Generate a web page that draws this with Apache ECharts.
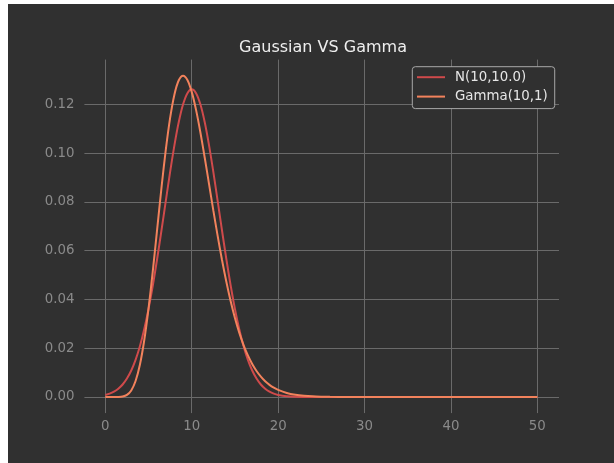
<!DOCTYPE html>
<html>
<head>
<meta charset="utf-8">
<script src="https://cdn.jsdelivr.net/npm/echarts@6/dist/echarts.min.js"></script>
<style>
html,body{margin:0;padding:0;background:#fff;width:614px;height:463px;overflow:hidden;}
#c{position:absolute;left:8px;top:4px;width:606px;height:459px;background:#303030;}
</style>
</head>
<body>
<div id="c"></div>
<script>
const titleText = 'Gaussian VS Gamma';
const seriesNames = ['N(10,10.0)', 'Gamma(10,1)'];
const xValues = [0,0.5,1,1.5,2,2.5,3,3.5,4,4.5,5,5.5,6,6.5,7,7.5,8,8.5,9,9.5,10,
  10.5,11,11.5,12,12.5,13,13.5,14,14.5,15,15.5,16,16.5,17,17.5,18,18.5,19,19.5,20,
  21,22,23,24,25,26,28,30,35,40,50];
const normalValues = [0.00085,0.00138,0.00220,0.00340,0.00514,0.00758,0.01089,0.01526,0.02085,0.02780,0.03615,
  0.04584,0.05669,0.06838,0.08044,0.09230,0.10329,0.11274,0.12001,0.12459,0.12616,
  0.12459,0.12001,0.11274,0.10329,0.09230,0.08044,0.06838,0.05669,0.04584,0.03615,
  0.02780,0.02085,0.01526,0.01089,0.00758,0.00514,0.00340,0.00220,0.00138,0.00085,
  0.00030,0.00009,0.00003,0.00001,0,0,0,0,0,0,0];
const gammaValues = [0,0,0.000001,0.000024,0.00019,0.00086,0.00270,0.00656,0.01323,0.02317,0.03627,
  0.05186,0.06884,0.08583,0.10140,0.11444,0.12408,0.12987,0.13176,0.13000,0.12511,
  0.11772,0.10855,0.09822,0.08737,0.07652,0.06606,0.05627,0.04734,0.03937,0.03241,
  0.02640,0.02131,0.01705,0.01353,0.01065,0.00833,0.00646,0.00498,0.00382,0.00291,
  0.00166,0.00093,0.00051,0.00027,0.00015,0.00008,0.00002,0.00001,0,0,0];
const xTicks = [0,10,20,30,40,50];
const yTicks = [0,0.02,0.04,0.06,0.08,0.10,0.12];

const colors = ['#cf4a4b', '#f2825c'];
const gridColor = '#6a6a6a';
const tickText = '#8a8a8a';
const font = 'DejaVu Sans';

const chart = echarts.init(document.getElementById('c'), null, {renderer:'canvas'});
const mk = (ys) => xValues.map((x, i) => [x, ys[i]]);

chart.setOption({
  backgroundColor: '#303030',
  animation: false,
  title: {
    text: titleText, left: 310, top: 31, textAlign: 'center',
    textStyle: {color: '#eeeeee', fontSize: 16, fontWeight: 'normal', fontFamily: font}
  },
  legend: {
    orient: 'vertical', left: 404.3, top: 62.7,
    padding: [3, 7, 4.5, 4.7],
    itemWidth: 28, itemHeight: 2, itemGap: 4.4,
    icon: 'rect',
    backgroundColor: '#303030', borderColor: '#a8a8a8', borderWidth: 1, borderRadius: 3,
    textStyle: {color: '#e6e6e6', fontSize: 13.33, fontFamily: font, lineHeight: 15, padding: [0,0,0,5]},
    data: seriesNames
  },
  grid: [
    {left: 76.4, right: 55, top: 100.3, bottom: 66, containLabel: false},
    {left: 97.33, right: 76.67, top: 55.6, bottom: 49.9, containLabel: false}
  ],
  xAxis: [
    {gridIndex: 0, type: 'value', min: -2.5, max: 52.5, show: false},
    {gridIndex: 1, type: 'value', min: 0, max: 50, interval: 10,
      axisLine: {show: false},
      axisTick: {show: true, length: 4, lineStyle: {color: gridColor, width: 1}},
      axisLabel: {color: tickText, fontSize: 13.33, fontFamily: font, margin: 7,
        customValues: xTicks},
      splitLine: {show: true, lineStyle: {color: gridColor, width: 1}}}
  ],
  yAxis: [
    {gridIndex: 0, type: 'value', min: 0, max: 0.12, interval: 0.02,
      axisLine: {show: false},
      axisTick: {show: true, length: 5, lineStyle: {color: gridColor, width: 1}},
      axisLabel: {color: tickText, fontSize: 13.33, fontFamily: font, margin: 10,
        formatter: v => v.toFixed(2)},
      splitLine: {show: true, lineStyle: {color: gridColor, width: 1}}},
    {gridIndex: 1, type: 'value', min: -0.00659, max: 0.13835, show: false}
  ],
  series: [
    {name: seriesNames[0], type: 'line', xAxisIndex: 1, yAxisIndex: 1,
      data: mk(normalValues), showSymbol: false, symbol: 'none', smooth: 0.3,
      lineStyle: {color: colors[0], width: 2}, itemStyle: {color: colors[0]}, z: 3},
    {name: seriesNames[1], type: 'line', xAxisIndex: 1, yAxisIndex: 1,
      data: mk(gammaValues), showSymbol: false, symbol: 'none', smooth: 0.3,
      lineStyle: {color: colors[1], width: 2}, itemStyle: {color: colors[1]}, z: 4}
  ]
});
</script>
</body>
</html>
